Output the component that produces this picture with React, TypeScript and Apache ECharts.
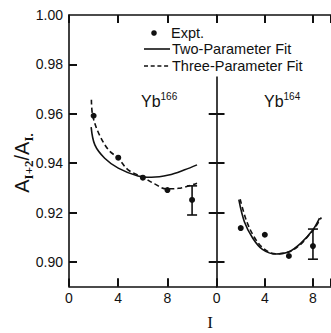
import React, { useEffect, useRef } from "react";
import * as echarts from "echarts";

// ---- axis ticks / labels ----
const yLabelValues = [0.9, 0.92, 0.94, 0.96, 0.98, 1.0];
const leftAxisTicks = [0.9, 0.92, 0.94, 0.96, 0.98];
const dividerTickValues = [0.9, 0.92, 0.94, 0.96];
const xLabelValues = [0, 4, 8];
const leftXTicks = [4, 8];
const rightTopTicks = [0, 4, 8];
const rightBottomTicks = [4, 8];

// ---- Yb166 (left panel) ----
const yb166ExptI = [2, 4, 6, 8, 10];
const yb166ExptVal = [0.9592, 0.9422, 0.9341, 0.9291, 0.9251];
const yb166ErrI = [10];
const yb166ErrLow = [0.919];
const yb166ErrHigh = [0.9308];
const yb166TwoI = [1.8, 2.1, 2.9, 4.0, 5.6, 6.7, 8.1, 9.4, 10.4];
const yb166TwoVal = [0.9546, 0.9474, 0.942, 0.938, 0.9348, 0.9343, 0.9352, 0.9373, 0.9393];
const yb166ThreeI = [1.82, 1.92, 2.4, 3.2, 4.0, 4.8, 6.0, 7.0, 7.9, 8.9, 10.4];
const yb166ThreeVal = [0.9657, 0.9594, 0.9522, 0.9454, 0.942, 0.9373, 0.9343, 0.9315, 0.9296, 0.9298, 0.9319];

// ---- Yb164 (right panel) ----
const yb164ExptI = [2, 4, 6, 8];
const yb164ExptVal = [0.9137, 0.911, 0.9024, 0.9064];
const yb164ErrI = [8];
const yb164ErrLow = [0.9011];
const yb164ErrHigh = [0.9133];
const yb164TwoI = [1.84, 2.3, 3.0, 3.8, 4.9, 6.0, 7.0, 8.0, 8.55];
const yb164TwoVal = [0.9252, 0.9163, 0.9096, 0.9051, 0.9032, 0.9041, 0.9076, 0.913, 0.9177];
const yb164ThreeI = [1.95, 2.45, 3.1, 3.9, 4.9, 6.0, 7.0, 7.6, 8.0, 8.7];
const yb164ThreeVal = [0.9254, 0.917, 0.9102, 0.9054, 0.9033, 0.904, 0.9072, 0.9105, 0.9127, 0.918];

const dividerRange = [0.89, 0.9751];
const yRange = [0.89, 1.0];
const leftXRange = [0, 12];
const rightXRange = [0, 9.5];

const INK = "#111";
const FONT = "Liberation Sans";
const TICK = 8;

const GRID_TOP = 15;
const GRID_H = 271.6;
const LEFT_W = 147.7;
const RIGHT_W = 117;

const zip = (xs: number[], ys: number[]) => xs.map((x, i) => [x, ys[i]]);

const errRender = (params: any, api: any) => {
  const x = api.value(0);
  const lo = api.coord([x, api.value(1)]);
  const hi = api.coord([x, api.value(2)]);
  const w = 5;
  const st = { stroke: INK, lineWidth: 1.6 };
  return {
    type: "group",
    children: [
      { type: "line", shape: { x1: lo[0], y1: lo[1], x2: hi[0], y2: hi[1] }, style: st },
      { type: "line", shape: { x1: lo[0] - w, y1: lo[1], x2: lo[0] + w, y2: lo[1] }, style: st },
      { type: "line", shape: { x1: hi[0] - w, y1: hi[1], x2: hi[0] + w, y2: hi[1] }, style: st },
    ],
  };
};

const seg = (x1: number, y1: number, x2: number, y2: number) => [{ coord: [x1, y1] }, { coord: [x2, y2] }];

function buildOption(): any {
  const axisLine = { show: true, lineStyle: { color: INK, width: 1.6 } };
  const noTick = { show: false };
  const xTick = { show: true, inside: true, length: TICK, lineStyle: { color: INK, width: 2 } };
  const xLabel = {
    show: true,
    customValues: xLabelValues,
    color: INK,
    fontSize: 14,
    fontFamily: FONT,
    margin: 4,
  };
  const grids = [
    { left: 69, top: GRID_TOP, width: LEFT_W, height: GRID_H },
    { left: 216.7, top: GRID_TOP, width: RIGHT_W, height: GRID_H },
  ];
  // tick length converted to data units of each panel
  const ty = (TICK / GRID_H) * (yRange[1] - yRange[0]);
  const txL = (TICK / LEFT_W) * (leftXRange[1] - leftXRange[0]);
  const txR = (TICK / RIGHT_W) * (rightXRange[1] - rightXRange[0]);

  const leftTickSegs = [
    ...leftXTicks.map((v) => seg(v, yRange[0], v, yRange[0] + ty)),
    ...leftXTicks.map((v) => seg(v, yRange[1], v, yRange[1] - ty)),
    ...leftAxisTicks.map((v) => seg(leftXRange[0], v, leftXRange[0] + txL, v)),
    ...dividerTickValues.map((v) => seg(leftXRange[1], v, leftXRange[1] - txL, v)),
  ];
  const rightTickSegs = [
    ...rightBottomTicks.map((v) => seg(v, yRange[0], v, yRange[0] + ty)),
    ...rightTopTicks.map((v) => seg(v, yRange[1], v, yRange[1] - ty)),
    ...dividerTickValues.map((v) => seg(rightXRange[0], v, rightXRange[0] + txR, v)),
  ];
  const markLineBase = {
    silent: true,
    symbol: "none",
    label: { show: false },
    lineStyle: { color: INK, width: 2, type: "solid", opacity: 1 },
  };

  const yBase = { type: "value", min: yRange[0], max: yRange[1], splitLine: { show: false } };
  const lineSeries = (xi: number, yi: number, xs: number[], ys: number[], dashed: boolean, name: string) => ({
    type: "line",
    name,
    xAxisIndex: xi,
    yAxisIndex: yi,
    data: zip(xs, ys),
    smooth: 0.35,
    showSymbol: false,
    symbol: "none",
    lineStyle: { color: INK, width: 1.6, type: dashed ? [5, 3] : "solid" },
    z: 3,
  });
  return {
    animation: false,
    backgroundColor: "#fff",
    grid: grids,
    xAxis: [
      {
        type: "value", gridIndex: 0, position: "bottom", min: leftXRange[0], max: leftXRange[1], interval: 4,
        axisLine, axisTick: xTick, axisLabel: xLabel, splitLine: { show: false },
      },
      {
        type: "value", gridIndex: 0, position: "top", min: leftXRange[0], max: leftXRange[1], interval: 4,
        axisLine, axisTick: xTick, axisLabel: { show: false }, splitLine: { show: false },
      },
      {
        type: "value", gridIndex: 1, position: "bottom", min: rightXRange[0], max: rightXRange[1], interval: 4,
        axisLine, axisTick: xTick, axisLabel: xLabel, splitLine: { show: false },
      },
      {
        type: "value", gridIndex: 1, position: "top", min: rightXRange[0], max: rightXRange[1], interval: 4,
        axisLine, axisTick: xTick, axisLabel: { show: false }, splitLine: { show: false },
      },
    ],
    yAxis: [
      {
        ...yBase, gridIndex: 0, position: "left",
        axisLine, axisTick: noTick,
        axisLabel: {
          show: true,
          customValues: yLabelValues,
          formatter: (v: number) => v.toFixed(2),
          color: INK, fontSize: 14, fontFamily: FONT, margin: 6,
        },
      },
      {
        ...yBase, gridIndex: 0, position: "right",
        axisLine: { show: false }, axisTick: noTick, axisLabel: { show: false },
      },
      {
        ...yBase, gridIndex: 1, position: "left",
        axisLine: { show: false }, axisTick: noTick, axisLabel: { show: false },
      },
    ],
    series: [
      lineSeries(0, 0, yb166TwoI, yb166TwoVal, false, "Two-Parameter Fit"),
      lineSeries(0, 0, yb166ThreeI, yb166ThreeVal, true, "Three-Parameter Fit"),
      {
        type: "scatter", name: "Expt.", xAxisIndex: 0, yAxisIndex: 0,
        data: zip(yb166ExptI, yb166ExptVal), symbol: "circle", symbolSize: 6,
        itemStyle: { color: INK, opacity: 1 }, z: 4,
        markLine: { ...markLineBase, data: leftTickSegs },
      },
      {
        type: "custom", xAxisIndex: 0, yAxisIndex: 0,
        data: yb166ErrI.map((x, i) => [x, yb166ErrLow[i], yb166ErrHigh[i]]),
        renderItem: errRender, z: 4,
      },
      lineSeries(2, 2, yb164TwoI, yb164TwoVal, false, "Two-Parameter Fit"),
      lineSeries(2, 2, yb164ThreeI, yb164ThreeVal, true, "Three-Parameter Fit"),
      {
        type: "scatter", name: "Expt.", xAxisIndex: 2, yAxisIndex: 2,
        data: zip(yb164ExptI, yb164ExptVal), symbol: "circle", symbolSize: 6,
        itemStyle: { color: INK, opacity: 1 }, z: 4,
        markLine: {
          ...markLineBase,
          lineStyle: { color: INK, width: 1.6, type: "solid", opacity: 1 },
          data: [seg(0, dividerRange[1], 0, dividerRange[0])],
        },
      },
      {
        type: "scatter", name: "ticks", xAxisIndex: 2, yAxisIndex: 2,
        data: [], symbolSize: 0,
        markLine: { ...markLineBase, data: rightTickSegs },
      },
      {
        type: "custom", xAxisIndex: 2, yAxisIndex: 2,
        data: yb164ErrI.map((x, i) => [x, yb164ErrLow[i], yb164ErrHigh[i]]),
        renderItem: errRender, z: 4,
      },
    ],
    graphic: [
      // legend
      { type: "circle", shape: { cx: 154, cy: 33, r: 2.8 }, style: { fill: INK } },
      {
        type: "text", x: 171, y: 33,
        style: { text: "Expt.", fontSize: 14.5, fontFamily: FONT, fill: INK, align: "left", verticalAlign: "middle" },
      },
      { type: "line", shape: { x1: 144, y1: 49, x2: 170, y2: 49 }, style: { stroke: INK, lineWidth: 1.6 } },
      {
        type: "text", x: 172, y: 49,
        style: { text: "Two-Parameter Fit", fontSize: 14.5, fontFamily: FONT, fill: INK, align: "left", verticalAlign: "middle" },
      },
      {
        type: "line", shape: { x1: 144, y1: 66, x2: 170, y2: 66 },
        style: { stroke: INK, lineWidth: 1.6, lineDash: [4, 2.7] },
      },
      {
        type: "text", x: 172, y: 66,
        style: { text: "Three-Parameter Fit", fontSize: 14.5, fontFamily: FONT, fill: INK, align: "left", verticalAlign: "middle" },
      },
      // panel labels
      {
        type: "text", x: 141, y: 101,
        style: {
          text: "Yb{s|166}", fontSize: 16, fontFamily: FONT, fill: INK, align: "left", verticalAlign: "middle",
          lineHeight: 20,
          rich: { s: { fontSize: 10, fontFamily: FONT, fill: INK, verticalAlign: "top", lineHeight: 10 } },
        },
      },
      {
        type: "text", x: 264, y: 101,
        style: {
          text: "Yb{s|164}", fontSize: 16, fontFamily: FONT, fill: INK, align: "left", verticalAlign: "middle",
          lineHeight: 20,
          rich: { s: { fontSize: 10, fontFamily: FONT, fill: INK, verticalAlign: "top", lineHeight: 10 } },
        },
      },
      // y-axis title
      {
        type: "text", x: 22, y: 163, rotation: Math.PI / 2,
        style: {
          text: "A{s|I+2}/A{s|I.}", fontSize: 20, fontFamily: FONT, fill: INK, align: "center", verticalAlign: "middle",
          lineHeight: 25,
          rich: { s: { fontSize: 13, fontFamily: "Liberation Serif", fontWeight: "bold", fill: INK, verticalAlign: "bottom", lineHeight: 13 } },
        },
      },
      // x-axis title
      {
        type: "text", x: 210, y: 322,
        style: { text: "I", fontSize: 17, fontFamily: "Liberation Serif", fill: INK, align: "center", verticalAlign: "middle" },
      },
    ],
  };
}

export default function App() {
  const ref = useRef<HTMLDivElement>(null);
  useEffect(() => {
    document.body.style.margin = "0";
    if (!ref.current) return;
    const chart = echarts.init(ref.current, undefined, { renderer: "svg" });
    chart.setOption(buildOption());
    return () => chart.dispose();
  }, []);
  return <div ref={ref} style={{ width: 331, height: 333, background: "#fff" }} />;
}
